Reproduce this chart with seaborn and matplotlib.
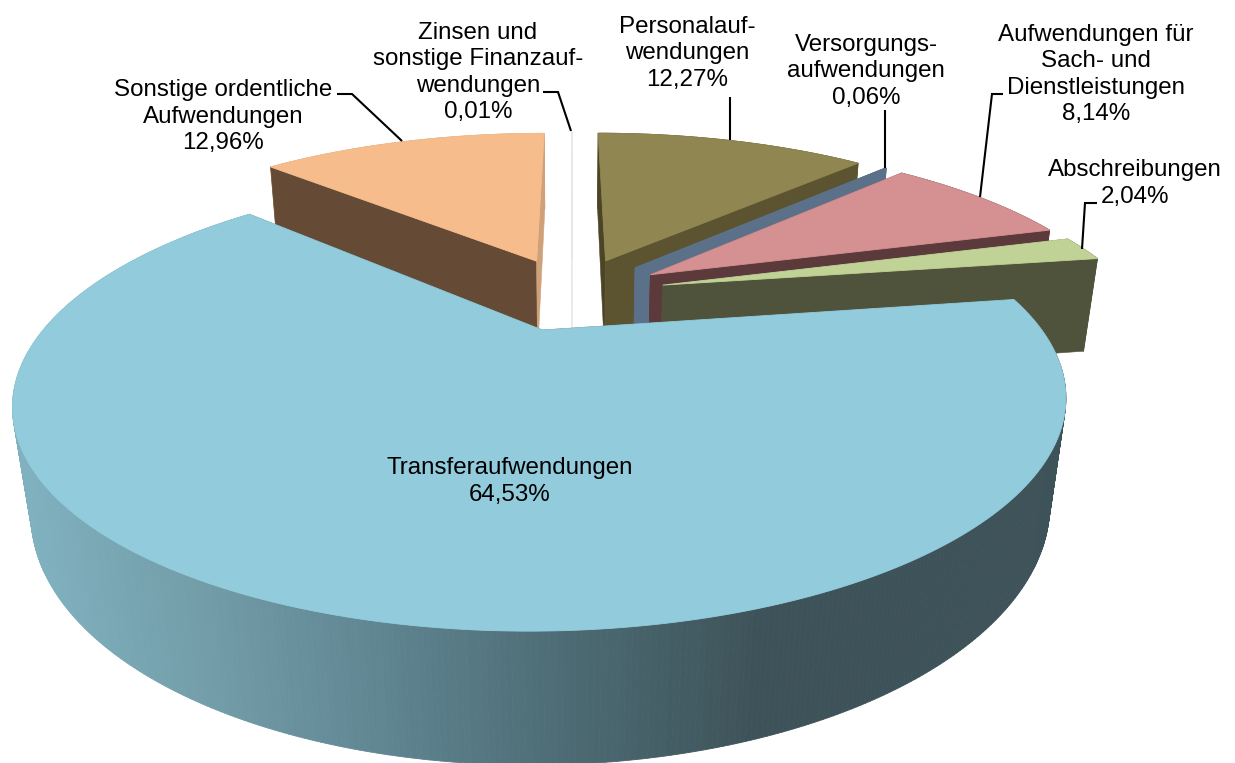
import numpy as np
import matplotlib
matplotlib.use("Agg")
import matplotlib.pyplot as plt
from matplotlib.collections import PolyCollection
import seaborn as sns

names = ["Personalauf-\nwendungen", "Versorgungs-\naufwendungen",
         "Aufwendungen für\nSach- und\nDienstleistungen", "Abschreibungen",
         "Transferaufwendungen", "Sonstige ordentliche\nAufwendungen",
         "Zinsen und\nsonstige Finanzauf-\nwendungen"]
shares = [12.27, 0.06, 8.14, 2.04, 64.53, 12.96, 0.01]

top_colors = ["#8F8651", "#5B7089", "#D59091", "#C0D295", "#92CBDB", "#F6BC8C", "#FFFFFF"]
start_face_colors = ["#4B4526", "#5B7089", "#5C3A3C", "#50533B", "#3E5359", "#654B36", "#FFFFFF"]
end_face_colors = ["#5C5330", "#5B7089", "#5C3A3C", "#50533B", "#3E5359", "#CFA17A", "#FFFFFF"]
wall_ramp = ["#80B1BF", "#729CA8", "#5E8490", "#4C6A73", "#3E5359"]

label_x = [687, 866, 1096, 1135, 510, 223, 478]
label_y = [53.5, 71.5, 74.5, 183.5, 481.5, 116.5, 72.5]
leaders = [[(730, 97), (730, 140)],
           [(885, 110), (885, 168)],
           [(1003, 94), (992, 94), (980, 197)],
           [(1097, 203), (1085, 203), (1082, 249)],
           [],
           [(337, 94), (352, 94), (402, 141)],
           [(543, 92), (558, 92), (571, 131)]]

# camera used for the 3d look, fitted by eye against the picture
CX, CY = 572, 293
FOCAL, DIST = 1450, 3.08
SIN_T, COS_T = 0.388, 0.922
EXPLODE = 0.2
HEIGHT = 0.23


def project(x, y, z=0.0):
    w = DIST - y * COS_T - z * SIN_T
    return CX + FOCAL * x / w, CY + FOCAL * (y * SIN_T - z * COS_T) / w


def ring(theta, off_x, off_y, z=0.0):
    u, v = project(off_x + np.sin(theta), off_y - np.cos(theta), z)
    return np.column_stack([u, v])


def cut_face(ax, theta, off_x, off_y, color, edge=None):
    apex_top = project(off_x, off_y)
    apex_bot = project(off_x, off_y, -HEIGHT)
    out_top = ring(np.array([theta]), off_x, off_y)[0]
    out_bot = ring(np.array([theta]), off_x, off_y, -HEIGHT)[0]
    ax.fill(*zip(apex_top, out_top, out_bot, apex_bot), facecolor=color, edgecolor=edge or color, lw=0.4)


sns.set_theme(style="white")
plt.rcParams["font.family"] = ["Liberation Sans", "DejaVu Sans"]

fig = plt.figure(figsize=(12.35, 7.63), dpi=100)
ax = fig.add_axes([0, 0, 1, 1])
ax.set_xlim(0, 1235)
ax.set_ylim(763, 0)
ax.axis("off")

ramp = sns.blend_palette(wall_ramp, n_colors=256)
edges = np.cumsum([0] + shares) / sum(shares) * 2 * np.pi
draw_order = [6, 5, 0, 1, 2, 3, 4]

for i in draw_order:
    a0, a1 = edges[i], edges[i + 1]
    mid = (a0 + a1) / 2
    off_x, off_y = EXPLODE * np.sin(mid), -EXPLODE * np.cos(mid)
    theta = np.linspace(a0, a1, max(3, int((a1 - a0) / np.radians(0.5))))
    edge = "#E6E6E6" if i == 6 else None

    # outer wall, split up so the big slice can get its shading
    upper = ring(theta, off_x, off_y)
    lower = ring(theta, off_x, off_y, -HEIGHT)
    quads = [[upper[k], upper[k + 1], lower[k + 1], lower[k]] for k in range(len(theta) - 1)]
    if i == 4:
        pos = np.clip((upper[:-1, 0] - 20) / 740, 0, 1)
        cols = [ramp[int(p * 255)] for p in pos]
    else:
        cols = [end_face_colors[i]] * len(quads)
    ax.add_collection(PolyCollection(quads, facecolors=cols, edgecolors=cols, linewidths=0.6))

    cut_face(ax, a0, off_x, off_y, start_face_colors[i], edge)
    cut_face(ax, a1, off_x, off_y, end_face_colors[i], edge)

    apex = np.array(project(off_x, off_y))
    top = np.vstack([apex, upper])
    ax.fill(top[:, 0], top[:, 1], facecolor=top_colors[i], edgecolor=edge or top_colors[i], lw=0.6)

for name, share, x, y, line in zip(names, shares, label_x, label_y, leaders):
    text = name + "\n" + f"{share:.2f}".replace(".", ",") + "%"
    ax.text(x, y, text, ha="center", va="center", multialignment="center",
            fontsize=17.4, color="black", linespacing=1.26)
    if line:
        ax.plot(*zip(*line), color="black", lw=1.5, solid_capstyle="butt", solid_joinstyle="miter")

plt.savefig("out.png", dpi=100)
